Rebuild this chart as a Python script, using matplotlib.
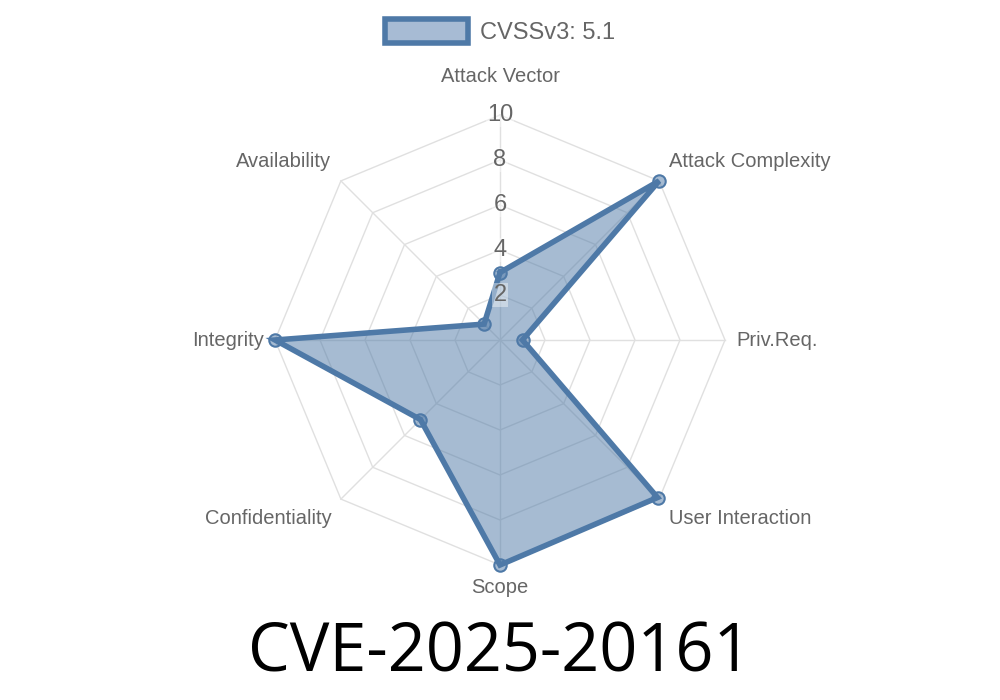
import numpy as np
import matplotlib.pyplot as plt
from matplotlib.patches import Patch

# valores
categorias = ["Attack Vector", "Attack Complexity", "Priv.Req.", "User Interaction",
              "Scope", "Confidentiality", "Integrity", "Availability"]
valores = [3.0, 10.0, 1.0, 9.9, 10.0, 5.0, 10.0, 1.0]
ticks = [2, 4, 6, 8, 10]
etiqueta = "CVSSv3: 5.1"
titulo = "CVE-2025-20161"

azul = "#4e79a7"
gris = "#666666"

plt.rcParams["font.family"] = ["Liberation Sans", "DejaVu Sans"]

fig = plt.figure(figsize=(10, 7), dpi=100)
ax = fig.add_axes([0.275, 135 / 700, 0.45, 450 / 700], projection="polar")
ax.set_theta_zero_location("N")
ax.set_theta_direction(-1)
ax.set_ylim(0, 10)

n = len(categorias)
angulos = np.linspace(0, 2 * np.pi, n, endpoint=False)

# rejilla octogonal
ax.grid(False)
ax.spines["polar"].set_visible(False)
ax.set_xticks([])
ax.set_yticks([])
ang_c = np.append(angulos, angulos[0])
for t in ticks:
    ax.plot(ang_c, [t] * (n + 1), color="#e0e0e0", lw=1, zorder=1, clip_on=False)
for a in angulos:
    ax.plot([a, a], [0, 10], color="#e0e0e0", lw=1, zorder=1, clip_on=False)

# datos
vals_c = valores + [valores[0]]
ax.fill(ang_c, vals_c, color=azul, alpha=0.5, zorder=2, lw=0, clip_on=False)
ax.plot(ang_c, vals_c, color=azul, lw=4, zorder=3, solid_joinstyle="miter", clip_on=False)
ax.scatter(angulos, valores, s=80, facecolor=(0.306, 0.475, 0.655, 0.5),
           edgecolor=azul, lw=1.5, zorder=4, clip_on=False)

# etiquetas de ticks
for t in ticks:
    ax.text(0, t, str(t), ha="center", va="center", fontsize=17, color=gris, zorder=5,
            bbox=dict(boxstyle="square,pad=0.05", fc="white", ec="none", alpha=0.4))

# etiquetas de los ejes
pos = [(11.7, "center", "center"), (10.6, "left", "bottom"), (10.5, "left", "center"),
       (10.6, "left", "top"), (11.0, "center", "center"), (10.6, "right", "top"),
       (10.5, "right", "center"), (10.6, "right", "bottom")]
for a, c, (r, ha, va) in zip(angulos, categorias, pos):
    ax.text(a, r, c, ha=ha, va=va, fontsize=14.5, color=gris, clip_on=False)

# leyenda
leg = fig.legend(handles=[Patch(facecolor="#a7bbd4", edgecolor=azul, lw=4, label=etiqueta)],
                 loc="upper center", bbox_to_anchor=(0.5, 1.003), frameon=False,
                 fontsize=17, handlelength=3.5, handleheight=1.2, handletextpad=0.5,
                 labelcolor=gris)

fig.text(0.5, 1 - 671 / 700, titulo, ha="center", va="baseline", fontsize=47.9,
         family="Open Sans", color="black")

fig.savefig("out.png", dpi=100)
